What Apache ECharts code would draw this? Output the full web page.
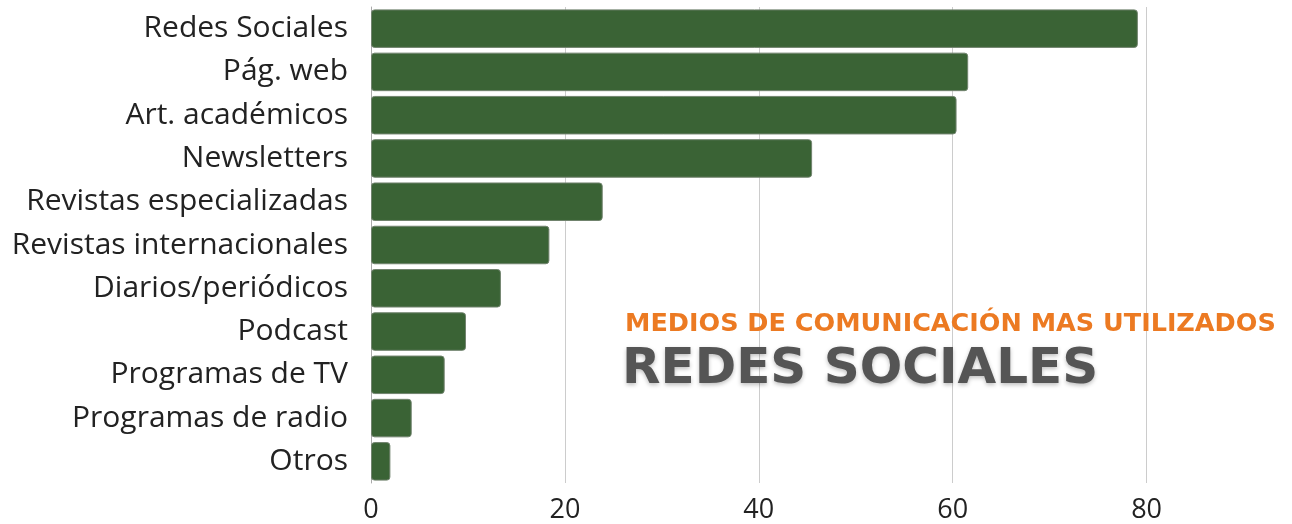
<!DOCTYPE html>
<html style="height: 100%">
<head>
  <meta charset="utf-8">
  <script type="text/javascript" src="https://cdn.jsdelivr.net/npm/echarts@6/dist/echarts.min.js"></script>
</head>
<body style="width: 100%; height: 100%; margin: 0; background: #fff">
<div id="main" style="width: 1292px; height: 524px;"></div>
<script type="text/javascript">

// medios de comunicación mas utilizados (%)
var categorias = ['Redes Sociales', 'Pág. web', 'Art. académicos', 'Newsletters',
  'Revistas especializadas', 'Revistas internacionales', 'Diarios/periódicos',
  'Podcast', 'Programas de TV', 'Programas de radio', 'Otros'];
var valores = [79.1, 61.6, 60.4, 45.5, 23.9, 18.4, 13.4, 9.8, 7.6, 4.2, 2.0];

var myChart = echarts.init(document.getElementById('main'));

var option = {
  animation: false,
  grid: { left: 371, top: 7, right: 0, bottom: 41, containLabel: false },
  title: [
    {
      text: 'MEDIOS DE COMUNICACIÓN MAS UTILIZADOS',
      left: 625, top: 311, padding: 0,
      textStyle: { color: '#ec7a22', fontSize: 25.5, fontWeight: 'bold', fontFamily: 'DejaVu Sans' }
    },
    {
      text: 'REDES SOCIALES',
      left: 622, top: 345, padding: 0,
      textStyle: {
        color: '#555555', fontSize: 50, fontWeight: 'bold', fontFamily: 'DejaVu Sans',
        textShadowColor: 'rgba(0,0,0,0.25)', textShadowBlur: 4, textShadowOffsetY: 2
      }
    }
  ],
  xAxis: {
    type: 'value',
    min: 0,
    max: 95,
    interval: 20,
    axisLine: { show: false },
    axisTick: { show: false },
    splitLine: { show: true, showMaxLine: false, lineStyle: { color: '#cccccc', width: 1 } },
    axisLabel: {
      showMaxLabel: false,
      margin: 14,
      color: '#222',
      fontSize: 27,
      fontFamily: 'Open Sans'
    }
  },
  yAxis: {
    type: 'category',
    data: categorias,
    inverse: true,
    axisLine: { show: true, lineStyle: { color: '#aaaaaa', width: 1 } },
    axisTick: { show: false },
    axisLabel: { margin: 23, color: '#222', fontSize: 30, fontFamily: 'Open Sans' }
  },
  series: [
    {
      type: 'bar',
      data: valores,
      barCategoryGap: '11%',
      itemStyle: {
        color: '#3a6335',
        borderColor: '#71836e',
        borderWidth: 1,
        borderRadius: 3
      }
    }
  ]
};

myChart.setOption(option);
</script>
</body>
</html>
